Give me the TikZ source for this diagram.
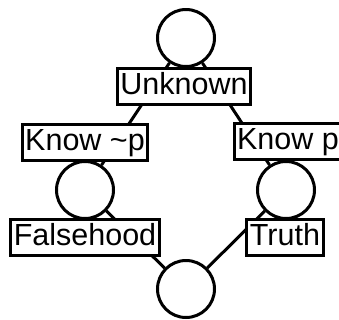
\documentclass[tikz,border=0pt]{standalone}
\usepackage{fontspec}
\setmainfont{Liberation Sans}
\usetikzlibrary{positioning}
\tikzset{
        world/.style={circle, draw, fill=white, line width=3bp, minimum size=57bp, inner sep=0pt}, % the empty circles
        tag/.style={draw, fill=white, line width=3bp, inner xsep=3bp, inner ysep=4bp,
                    text height=22bp, text depth=6bp, font=\fontsize{30.5bp}{32bp}\selectfont}, % the labels in boxes
        link/.style={line width=3bp}, % lines between the circles
    }
\begin{document}
\begin{tikzpicture}[x=1bp, y=-1bp]
    \useasboundingbox (0,0) rectangle (339,320);
    \node[world] (top) at (186,38) {};
    \node[world] (left) at (85,190) {};
    \node[world] (right) at (286,190) {};
    \node[world] (bot) at (186,289) {};
    \draw[link]
      (top) edge (left)
      (top) edge (right)
      (left) edge (bot)
      (right) edge (bot);
    \node[tag, below=-1bp of top, xshift=-2bp] (unknown) {Unknown};
    \node[tag, above=-2bp of left] (knownot) {Know \textasciitilde p};
    \node[tag, above=-1bp of right, xshift=2bp] (know) {Know p};
    \node[tag, below=-2bp of left] (false) {Falsehood};
    \node[tag, below=-2bp of right, xshift=-1bp] (truth) {Truth};
\end{tikzpicture}
\end{document}
